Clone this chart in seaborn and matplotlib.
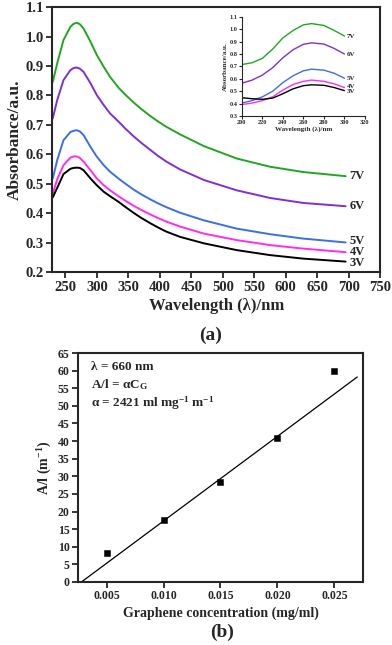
import numpy as np
import pandas as pd
import matplotlib
matplotlib.use("Agg")
import matplotlib.pyplot as plt
import seaborn as sns

# -----------------------------
# DATA
# -----------------------------
wl = [230, 237, 247, 258, 263, 268, 273, 279, 290, 300, 311, 321, 335, 345, 358, 370, 385, 397, 410, 432, 470, 522, 575, 628, 695]
abs_7v = [0.846, 0.909, 0.988, 1.033, 1.043, 1.047, 1.042, 1.027, 0.982, 0.937, 0.897, 0.863, 0.825, 0.803, 0.777, 0.755, 0.730, 0.712, 0.694, 0.668, 0.628, 0.586, 0.558, 0.540, 0.526]
abs_6v = [0.722, 0.784, 0.852, 0.886, 0.893, 0.895, 0.891, 0.880, 0.841, 0.801, 0.767, 0.739, 0.710, 0.688, 0.662, 0.640, 0.615, 0.595, 0.576, 0.549, 0.513, 0.478, 0.452, 0.435, 0.424]
abs_5v = [0.518, 0.580, 0.648, 0.676, 0.680, 0.682, 0.678, 0.665, 0.625, 0.592, 0.563, 0.541, 0.517, 0.501, 0.481, 0.465, 0.447, 0.434, 0.421, 0.402, 0.376, 0.348, 0.329, 0.314, 0.301]
abs_4v = [0.467, 0.515, 0.563, 0.589, 0.593, 0.593, 0.588, 0.575, 0.546, 0.518, 0.495, 0.478, 0.457, 0.443, 0.426, 0.412, 0.396, 0.384, 0.372, 0.355, 0.331, 0.309, 0.292, 0.280, 0.268]
abs_3v = [0.454, 0.486, 0.533, 0.551, 0.554, 0.555, 0.554, 0.546, 0.518, 0.495, 0.473, 0.458, 0.438, 0.422, 0.402, 0.385, 0.366, 0.352, 0.338, 0.320, 0.298, 0.275, 0.258, 0.246, 0.236]

wl_in = [200, 210, 220, 230, 240, 250, 260, 268, 280, 290, 300]
in_7v = [0.715, 0.730, 0.765, 0.840, 0.930, 0.990, 1.035, 1.045, 1.030, 0.990, 0.945]
in_6v = [0.565, 0.590, 0.630, 0.690, 0.770, 0.835, 0.878, 0.890, 0.880, 0.845, 0.800]
in_5v = [0.405, 0.425, 0.455, 0.500, 0.570, 0.625, 0.665, 0.678, 0.670, 0.645, 0.605]
in_4v = [0.393, 0.405, 0.425, 0.455, 0.510, 0.555, 0.580, 0.590, 0.580, 0.560, 0.530]
in_3v = [0.448, 0.440, 0.435, 0.445, 0.480, 0.520, 0.545, 0.552, 0.548, 0.530, 0.505]

voltages = ["7V", "6V", "5V", "4V", "3V"]
colors = ["#1fa71f", "#7f2fd8", "#3a6fe6", "#ff2cf0", "#000000"]

conc = [0.005, 0.010, 0.015, 0.020, 0.025]
a_over_l = [8.2, 17.6, 28.5, 41.0, 59.8]
fit_x = [0.0028, 0.0270]
fit_y = [0.0, 58.2]

# -----------------------------
# STYLE
# -----------------------------
sns.set_style("ticks")
plt.rcParams["font.family"] = ["Liberation Serif", "DejaVu Serif"]
plt.rcParams["font.weight"] = "bold"
plt.rcParams["axes.labelweight"] = "bold"
plt.rcParams["mathtext.fontset"] = "custom"
plt.rcParams["mathtext.rm"] = "Liberation Serif:bold"
plt.rcParams["mathtext.it"] = "Liberation Serif:bold"
plt.rcParams["mathtext.bf"] = "Liberation Serif:bold"
plt.rcParams["axes.linewidth"] = 1.5
plt.rcParams["xtick.major.width"] = 1.3
plt.rcParams["ytick.major.width"] = 1.3
plt.rcParams["xtick.major.size"] = 4
plt.rcParams["ytick.major.size"] = 4

fig = plt.figure(figsize=(3.92, 6.45), dpi=100)

# ===== (a) main spectra =====
ax1 = fig.add_axes([0.133, 0.578, 0.837, 0.411])
df_main = pd.DataFrame({
    "wl": wl * 5,
    "A": abs_7v + abs_6v + abs_5v + abs_4v + abs_3v,
    "V": sum([[v] * len(wl) for v in voltages], []),
})
sns.lineplot(data=df_main, x="wl", y="A", hue="V", palette=colors,
             hue_order=voltages, lw=1.4, legend=False, ax=ax1)
ax1.set_xlim(229, 750)
ax1.set_ylim(0.2, 1.1)
ax1.set_xticks(np.arange(250, 751, 50))
ax1.set_yticks(np.arange(0.2, 1.11, 0.1))
ax1.yaxis.set_major_formatter(matplotlib.ticker.FormatStrFormatter("%.1f"))
ax1.tick_params(labelsize=10.5, pad=2)
ax1.set_xlabel("Wavelength (λ)/nm", fontsize=12, labelpad=3)
ax1.set_ylabel("Absorbance/a.u.", fontsize=12.5, labelpad=2)
ends = [abs_7v[-1], abs_6v[-1], abs_5v[-1], abs_4v[-1], abs_3v[-1]]
lab_off = [0.0, 0.0, 0.006, 0.0, -0.006]
for v, e, o in zip(voltages, ends, lab_off):
    ax1.text(701, e + o, v, fontsize=9, fontweight="bold", va="center", ha="left")

# ===== inset =====
ax_in = fig.add_axes([0.617, 0.820, 0.314, 0.154])
df_in = pd.DataFrame({
    "wl": wl_in * 5,
    "A": in_7v + in_6v + in_5v + in_4v + in_3v,
    "V": sum([[v] * len(wl_in) for v in voltages], []),
})
sns.lineplot(data=df_in, x="wl", y="A", hue="V", palette=colors,
             hue_order=voltages, lw=1.0, legend=False, ax=ax_in)
ax_in.set_xlim(200, 320)
ax_in.set_ylim(0.3, 1.1)
ax_in.set_xticks(np.arange(200, 321, 20))
ax_in.set_yticks(np.arange(0.3, 1.11, 0.1))
ax_in.yaxis.set_major_formatter(matplotlib.ticker.FormatStrFormatter("%.1f"))
ax_in.tick_params(labelsize=4.5, length=2, width=0.8, pad=1)
for s in ax_in.spines.values():
    s.set_linewidth(0.8)
ax_in.spines["top"].set_visible(False)
ax_in.spines["right"].set_visible(False)
ax_in.set_xlabel("Wavelength (λ)/nm", fontsize=5, labelpad=1)
ax_in.set_ylabel("Absorbance/a.u.", fontsize=5, labelpad=1)
ends_in = [in_7v[-1], in_6v[-1], in_5v[-1], in_4v[-1], in_3v[-1]]
offs = [0.0, 0.0, 0.0, 0.01, -0.01]
for v, e, o in zip(voltages, ends_in, offs):
    ax_in.text(302, e + o, v, fontsize=5, fontweight="bold", va="center", ha="left")

fig.text(0.538, 0.48, "(a)", fontsize=14, fontweight="bold", ha="center", va="center")

# ===== (b) calibration =====
ax2 = fig.add_axes([0.199, 0.0977, 0.727, 0.355])
sns.lineplot(x=fit_x, y=fit_y, color="black", lw=0.9, ax=ax2)
sns.scatterplot(x=conc, y=a_over_l, marker="s", color="black", s=22,
                edgecolor="black", ax=ax2)
ax2.set_xlim(0.0025, 0.0275)
ax2.set_ylim(0, 65)
ax2.set_xticks(conc)
ax2.xaxis.set_major_formatter(matplotlib.ticker.FormatStrFormatter("%.3f"))
ax2.set_yticks(np.arange(0, 66, 5))
ax2.tick_params(labelsize=8.5, pad=2)
ax2.set_xlabel("Graphene concentration (mg/ml)", fontsize=10, labelpad=3)
ax2.set_ylabel("A/l (m$^{-1}$)", fontsize=10, labelpad=3)
ax2.text(0.045, 0.925, "λ = 660 nm", transform=ax2.transAxes, fontsize=9.5, fontweight="bold")
ax2.text(0.045, 0.845, "A/l = αC$_{G}$", transform=ax2.transAxes, fontsize=9.5, fontweight="bold")
ax2.text(0.045, 0.765, "α = 2421 ml mg$^{-1}$ m$^{-1}$", transform=ax2.transAxes,
         fontsize=9.5, fontweight="bold")

fig.text(0.566, 0.019, "(b)", fontsize=14, fontweight="bold", ha="center", va="center")

plt.savefig("out.png", dpi=100)
